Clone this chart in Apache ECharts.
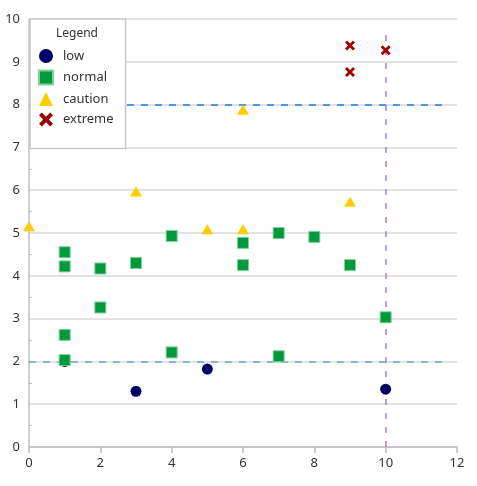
<!DOCTYPE html>
<html>
<head>
<meta charset="utf-8">
<script src="https://cdn.jsdelivr.net/npm/echarts@6/dist/echarts.min.js"></script>
<style>
  html, body { margin: 0; padding: 0; background: #fff; }
  #main { width: 477px; height: 486px; }
</style>
</head>
<body>
<div id="main"></div>
<script>
// points, [x, y]
var lowPts = [[1, 2.0], [3, 1.3], [5, 1.82], [10, 1.35]];
var normalPts = [
  [1, 4.55], [1, 4.22], [1, 2.62], [1, 2.03],
  [2, 4.17], [2, 3.26], [3, 4.3], [4, 4.93], [4, 2.21],
  [6, 4.77], [6, 4.25], [7, 5.0], [7, 2.12], [8, 4.91],
  [9, 4.25], [10, 3.03]
];
var cautionPts = [[0, 5.16], [3, 5.97], [5, 5.09], [6, 5.09], [6, 7.88], [9, 5.73]];
var extremePts = [[9, 9.38], [9, 8.76], [10, 9.27]];
var seriesNames = ['low', 'normal', 'caution', 'extreme'];
var xTicks = { min: 0, max: 12, step: 2 };
var yTicks = { min: 0, max: 10, step: 1 };
var hLines = [2, 8];
var vLine = 10;

var crossPath = 'path://M2,0 L5,3 L8,0 L10,2 L7,5 L10,8 L8,10 L5,7 L2,10 L0,8 L3,5 L0,2 Z';
var font = 'Noto Sans';

var chart = echarts.init(document.getElementById('main'), null, {renderer: 'canvas'});

chart.setOption({
  animation: false,
  backgroundColor: '#fff',
  textStyle: { fontFamily: font },
  grid: { left: 29, right: 20, top: 19, bottom: 39, containLabel: false },
  xAxis: {
    type: 'value',
    min: xTicks.min, max: xTicks.max, interval: xTicks.step,
    axisLine: { lineStyle: { color: '#bfbfbf', width: 1.5 } },
    axisTick: { show: true, length: 6, lineStyle: { color: '#bfbfbf', width: 1.5 } },
    axisLabel: { color: '#333', fontSize: 13, margin: 10, fontFamily: font },
    splitLine: { show: false }
  },
  yAxis: {
    type: 'value',
    min: yTicks.min, max: yTicks.max, interval: yTicks.step,
    axisLine: { show: true, lineStyle: { color: '#bfbfbf', width: 1.5 } },
    axisTick: { show: false, inside: true },
    minorTick: { show: true, splitNumber: 2, length: 3, lineStyle: { color: '#bfbfbf', width: 1 } },
    axisLabel: { color: '#333', fontSize: 13, margin: 9, fontFamily: font },
    splitLine: { show: true, lineStyle: { color: '#d9d9d9', width: 1.5 } }
  },
  legend: {
    orient: 'vertical',
    left: 30, top: 19, z: 20,
    padding: [30, 12, 22, 8],
    itemGap: 6.5,
    itemWidth: 14, itemHeight: 14,
    backgroundColor: '#fff',
    borderColor: '#c8c8c8',
    borderWidth: 1.5,
    borderRadius: 0,
    textStyle: { color: '#333', fontSize: 13, fontFamily: font, padding: [0, 0, 0, 5] },
    data: seriesNames
  },
  graphic: [{
    type: 'text', z: 100,
    left: 56, top: 28,
    style: { text: 'Legend', fill: '#333', font: '12px "Noto Sans"' }
  }],
  series: [
    {
      name: seriesNames[0], type: 'scatter', z: 5,
      symbol: 'circle', symbolSize: 11,
      itemStyle: { color: '#000066', opacity: 1 },
      data: lowPts,
      markLine: {
        silent: true, symbol: 'none', label: { show: false },
        lineStyle: { type: [7, 7], width: 1.5, color: '#6aa8e6' },
        data: [[{ coord: [0, hLines[0]] }, { coord: [11.75, hLines[0]] }]]
      }
    },
    {
      name: seriesNames[1], type: 'scatter', z: 6,
      symbol: 'rect', symbolSize: 11,
      itemStyle: { color: '#009a3c', borderColor: '#7fcf98', borderWidth: 1, opacity: 1 },
      data: normalPts,
      markLine: {
        silent: true, symbol: 'none', label: { show: false },
        lineStyle: { type: [7, 7], width: 1.5, color: '#1f7fe0' },
        data: [[{ coord: [0, hLines[1]] }, { coord: [11.75, hLines[1]] }]]
      }
    },
    {
      name: seriesNames[2], type: 'scatter', z: 7,
      symbol: 'triangle', symbolSize: [12, 10],
      itemStyle: { color: '#ffcc00', opacity: 1 },
      data: cautionPts,
      markLine: {
        silent: true, symbol: 'none', label: { show: false },
        lineStyle: { type: [6, 8], width: 1.5, color: '#b07ae8' },
        data: [[{ coord: [vLine, 0] }, { coord: [vLine, 9.8] }]]
      }
    },
    {
      name: seriesNames[3], type: 'scatter', z: 8,
      symbol: crossPath, symbolSize: 10,
      itemStyle: { color: '#a00000', opacity: 1 },
      data: extremePts
    }
  ]
});
</script>
</body>
</html>
